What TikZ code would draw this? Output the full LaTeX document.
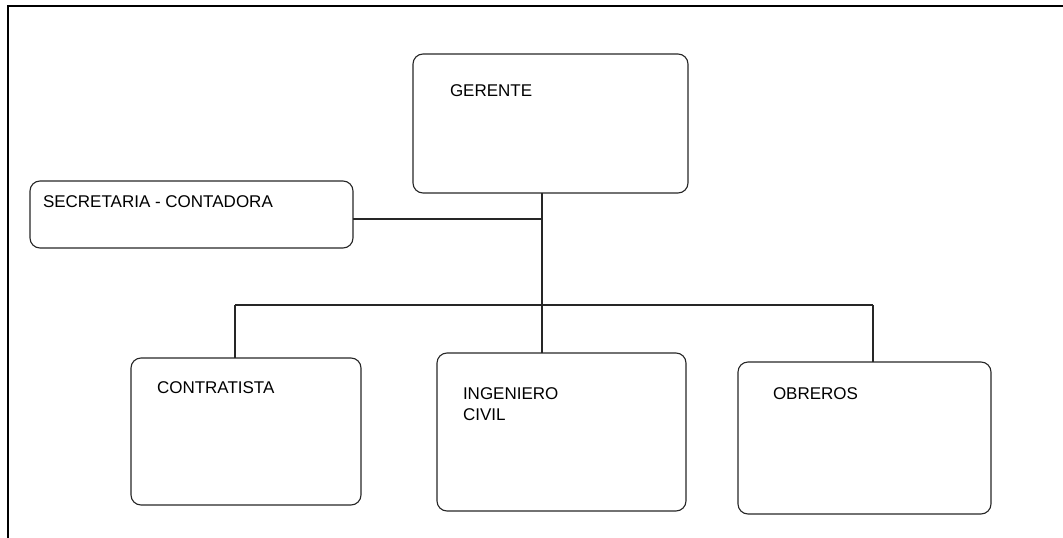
\documentclass[tikz,border=0pt]{standalone}
\usepackage{fontspec}
\setmainfont{Liberation Sans}
\begin{document}
\begin{tikzpicture}[x=1pt,y=-1pt,
  box/.style={draw=black!85, line width=1.1pt, rounded corners=10pt,
    inner sep=0pt, outer sep=0pt},
  label text/.style={anchor=base west, inner sep=0pt, outer sep=0pt,
    font=\fontsize{17}{21}\selectfont, align=left},
  link/.style={draw=black!85, line width=1.1pt}]
  \useasboundingbox (0,0) rectangle (1063,538);
  % page frame (top and left edges)
  \draw[line width=2pt] (7.5,538) -- (7.5,6) -- (1063,6);

  % boxes
  \node[box, minimum width=275pt, minimum height=139pt] (ger) at (550.5,123.5) {};
  \node[box, minimum width=323pt, minimum height=67pt]  (sec) at (191.5,214.5) {};
  \node[box, minimum width=230pt, minimum height=147pt] (con) at (246,431.5) {};
  \node[box, minimum width=249pt, minimum height=158pt] (ing) at (561.5,432) {};
  \node[box, minimum width=253pt, minimum height=152pt] (obr) at (864.5,438) {};

  % titles
  \node[label text] (ger-t) at (450,96)  {GERENTE};
  \node[label text] (sec-t) at (43,207)  {SECRETARIA - CONTADORA};
  \node[label text] (con-t) at (157,393) {CONTRATISTA};
  \node[label text] (ing-t) at (463,399) {INGENIERO};
  \node[label text] (ing-u) at (463,420) {CIVIL};
  \node[label text] (obr-t) at (773,399) {OBREROS};

  % connectors
  \coordinate (jsec) at (542,219);
  \coordinate (hub) at (542,305);
  \coordinate (bl) at (235,305);
  \coordinate (br) at (873,305);
  \draw[link] (ger.south -| hub) -- (hub);
  \draw[link] (sec.east |- jsec) -- (jsec);
  \draw[link] (bl) -- (br);
  \draw[link] (bl) -- (con.north -| bl);
  \draw[link] (hub) -- (ing.north -| hub);
  \draw[link] (br) -- (obr.north -| br);
\end{tikzpicture}
\end{document}
